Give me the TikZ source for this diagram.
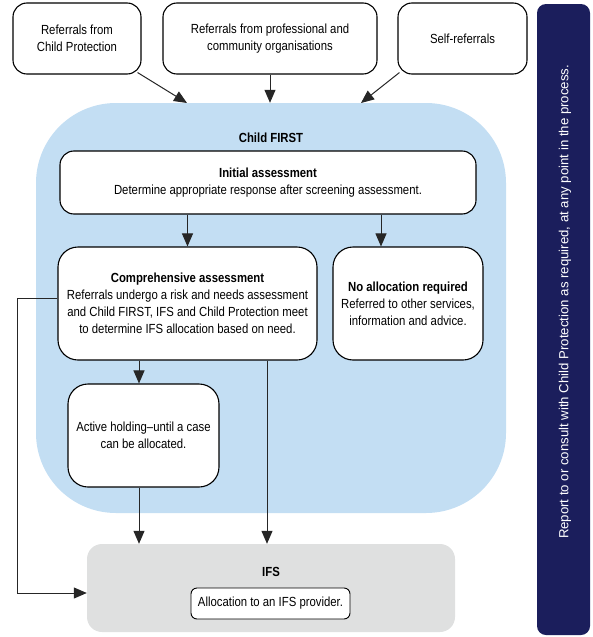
\documentclass[tikz,border=0pt]{standalone}
\usepackage{fontspec}
\setmainfont{Liberation Sans}[FakeStretch=0.86]
\newfontfamily\barfont{Liberation Sans}
\usetikzlibrary{arrows.meta,calc}
\definecolor{blobblue}{HTML}{C3DEF3}
\definecolor{ifsgray}{HTML}{DFE0E0}
\definecolor{navybar}{HTML}{1B1E5C}
\begin{document}
\begin{tikzpicture}[x=1pt,y=-1pt,
  every node/.style={font=\fontsize{13.2}{17}\selectfont, align=center, inner sep=0pt},
  titlefont/.style={font=\fontsize{13.2}{17}\selectfont\bfseries},
  box/.style={draw=black, line width=1.1pt, fill=white, rounded corners=14pt},
  bigbox/.style={box, rounded corners=20pt},
  conn/.style={draw=black!85, line width=1pt, -{Triangle[length=13pt,width=11pt]}}]
\useasboundingbox (0,0) rectangle (593,637);

% right bar
\node[fill=navybar, rounded corners=9pt, minimum width=53pt, minimum height=631pt] (bar) at (563.5,319.5) {};
\node[text=white, rotate=90, font=\barfont\fontsize{13.2}{14}\selectfont] (bartext) at (565,302) {Report to or consult with Child Protection as required, at any point in the process.};

% Child FIRST area
\node[fill=blobblue, rounded corners=80pt, minimum width=470pt, minimum height=410pt] (cf) at (271,308) {};
\node[titlefont] (cft) at (271,138) {Child FIRST};

% IFS area
\node[fill=ifsgray, rounded corners=15pt, minimum width=368pt, minimum height=88pt] (ifs) at (271,588) {};
\node[titlefont] (ifst) at (271,572) {IFS};
\node[box, rounded corners=6pt, line width=0.9pt, minimum width=159pt, minimum height=31pt] (alloc) at (270.5,603.5) {Allocation to an IFS provider.};

% top boxes
\node[box, minimum width=128pt, minimum height=71pt] (b1) at (77,38.5) {Referrals from\\Child Protection};
\node[box, minimum width=214pt, minimum height=71pt] (b2) at (270,38.5) {Referrals from professional and\\community organisations};
\node[box, minimum width=129pt, minimum height=71pt] (b3) at (462.5,38.5) {Self-referrals};

% inner boxes
\node[box, minimum width=416pt, minimum height=63pt] (ia) at (268,182.5) {{\bfseries Initial assessment}\\Determine appropriate response after screening assessment.};
\node[bigbox, minimum width=259pt, minimum height=113pt] (ca) at (187.5,303.5) {{\bfseries Comprehensive assessment}\\Referrals undergo a risk and needs assessment\\and Child FIRST, IFS and Child Protection meet\\to determine IFS allocation based on need.};
\node[bigbox, minimum width=150pt, minimum height=113pt] (na) at (408,303.5) {{\bfseries No allocation required}\\Referred to other services,\\information and advice.};
\node[bigbox, minimum width=151pt, minimum height=103pt] (ah) at (143.5,435.5) {Active holding--until a case\\can be allocated.};

% connectors
\coordinate (in1) at (187,103);
\coordinate (in3) at (361,103);
\draw[conn] ($(b1.south east)+(-4,-2)$) -- (in1);
\draw[conn] (b2.south) -- (b2.south |- cf.north);
\draw[conn] ($(b3.south west)+(2,-2)$) -- (in3);

\draw[conn] (ia.south -| ca.north) -- (ca.north);
\coordinate (nax) at ($(na.north)+(-27,0)$);
\draw[conn] (ia.south -| nax) -- (nax);

\coordinate (ahx) at ($(ah.north)+(-4.5,0)$);
\draw[conn] (ca.south -| ahx) -- (ahx);
\draw[conn] (ah.south -| ahx) -- (ifs.north -| ahx);

\coordinate (cax) at ($(ca.south)+(79.5,0)$);
\draw[conn] (cax) -- (ifs.north -| cax);

\draw[conn] ($(ca.west)+(0,-5.5)$) -- ++(-40,0) |- ($(ifs.west)+(0,5)$);
\end{tikzpicture}
\end{document}
